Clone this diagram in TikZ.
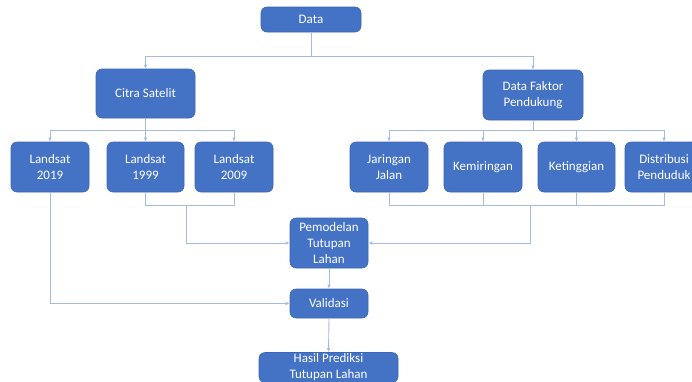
\documentclass[tikz,border=0pt]{standalone}
\usepackage{fontspec}
\setmainfont{Carlito}
\usetikzlibrary{arrows.meta}
\definecolor{boxfill}{HTML}{4472C4}
\definecolor{boxline}{HTML}{3A66B5}
\definecolor{conn}{HTML}{A4BCE4}
\tikzset{
  blk/.style={rectangle, rounded corners=6pt, fill=boxfill, draw=boxline, line width=0.6pt,
    text=white, align=center, font=\fontsize{13}{16}\selectfont, inner sep=1pt},
  arr/.style={draw=conn, line width=0.9pt, -{Latex[length=4pt,width=3.5pt]}},
  ln/.style={draw=conn, line width=0.9pt}
}
\begin{document}
\begin{tikzpicture}[x=1pt,y=-1pt]
\useasboundingbox (0,0) rectangle (692,381);
\node[blk, minimum width=100pt, minimum height=25pt] (data) at (311,19.5) {Data};
\node[blk, minimum width=99pt, minimum height=49pt] (citra) at (145.5,93.5) {Citra Satelit};
\node[blk, minimum width=100pt, minimum height=50pt] (dfp) at (533,95) {Data Faktor\\Pendukung};
\node[blk, minimum width=78pt, minimum height=50pt] (l2019) at (50,167) {Landsat\\2019};
\node[blk, minimum width=77pt, minimum height=50pt] (l1999) at (145.5,167) {Landsat\\1999};
\node[blk, minimum width=78pt, minimum height=50pt] (l2009) at (234,167) {Landsat\\2009};
\node[blk, minimum width=78pt, minimum height=50pt] (jj) at (389,167) {Jaringan\\Jalan};
\node[blk, minimum width=78pt, minimum height=50pt] (kem) at (483,167) {Kemiringan};
\node[blk, minimum width=77pt, minimum height=50pt] (ket) at (576.5,167) {Ketinggian};
\node[blk, minimum width=78pt, minimum height=50pt] (dist) at (664,167) {Distribusi\\Penduduk};
\node[blk, minimum width=78pt, minimum height=50pt] (pem) at (329,243) {Pemodelan\\Tutupan\\Lahan};
\node[blk, minimum width=78pt, minimum height=29pt] (val) at (329,303.5) {Validasi};
\node[blk, minimum width=139pt, minimum height=30pt] (hasil) at (328.5,367.5) {Hasil Prediksi\\Tutupan Lahan};
\coordinate (j1) at (311,56);
\coordinate (j2) at (145.5,130);
\coordinate (j3) at (533,130);
\coordinate (j4) at (186,205);
\coordinate (j5) at (530,205);
\draw[ln] (data.south) -- (j1);
\draw[arr] (j1) -| (citra.north);
\draw[arr] (j1) -| (dfp.north);
\draw[ln] (citra.south) -- (j2);
\draw[arr] (j2) -| (l2019.north);
\draw[arr] (j2) -- (l1999.north);
\draw[arr] (j2) -| (l2009.north);
\draw[ln] (dfp.south) -- (j3);
\draw[arr] (j3) -| (jj.north);
\draw[arr] (j3) -| (kem.north);
\draw[arr] (j3) -| (ket.north);
\draw[arr] (j3) -| (dist.north);
\draw[ln] (l1999.south) |- (j4);
\draw[ln] (l2009.south) |- (j4);
\draw[arr] (j4) |- (pem.west);
\draw[ln] (jj.south) |- (j5);
\draw[ln] (kem.south) |- (j5);
\draw[ln] (ket.south) |- (j5);
\draw[ln] (dist.south) |- (j5);
\draw[arr] (j5) |- (pem.east);
\draw[arr] (l2019.south) |- (val.west);
\draw[arr] (pem.south) -- (val.north);
\draw[arr] (val.south) -- (hasil.north);
\end{tikzpicture}
\end{document}
